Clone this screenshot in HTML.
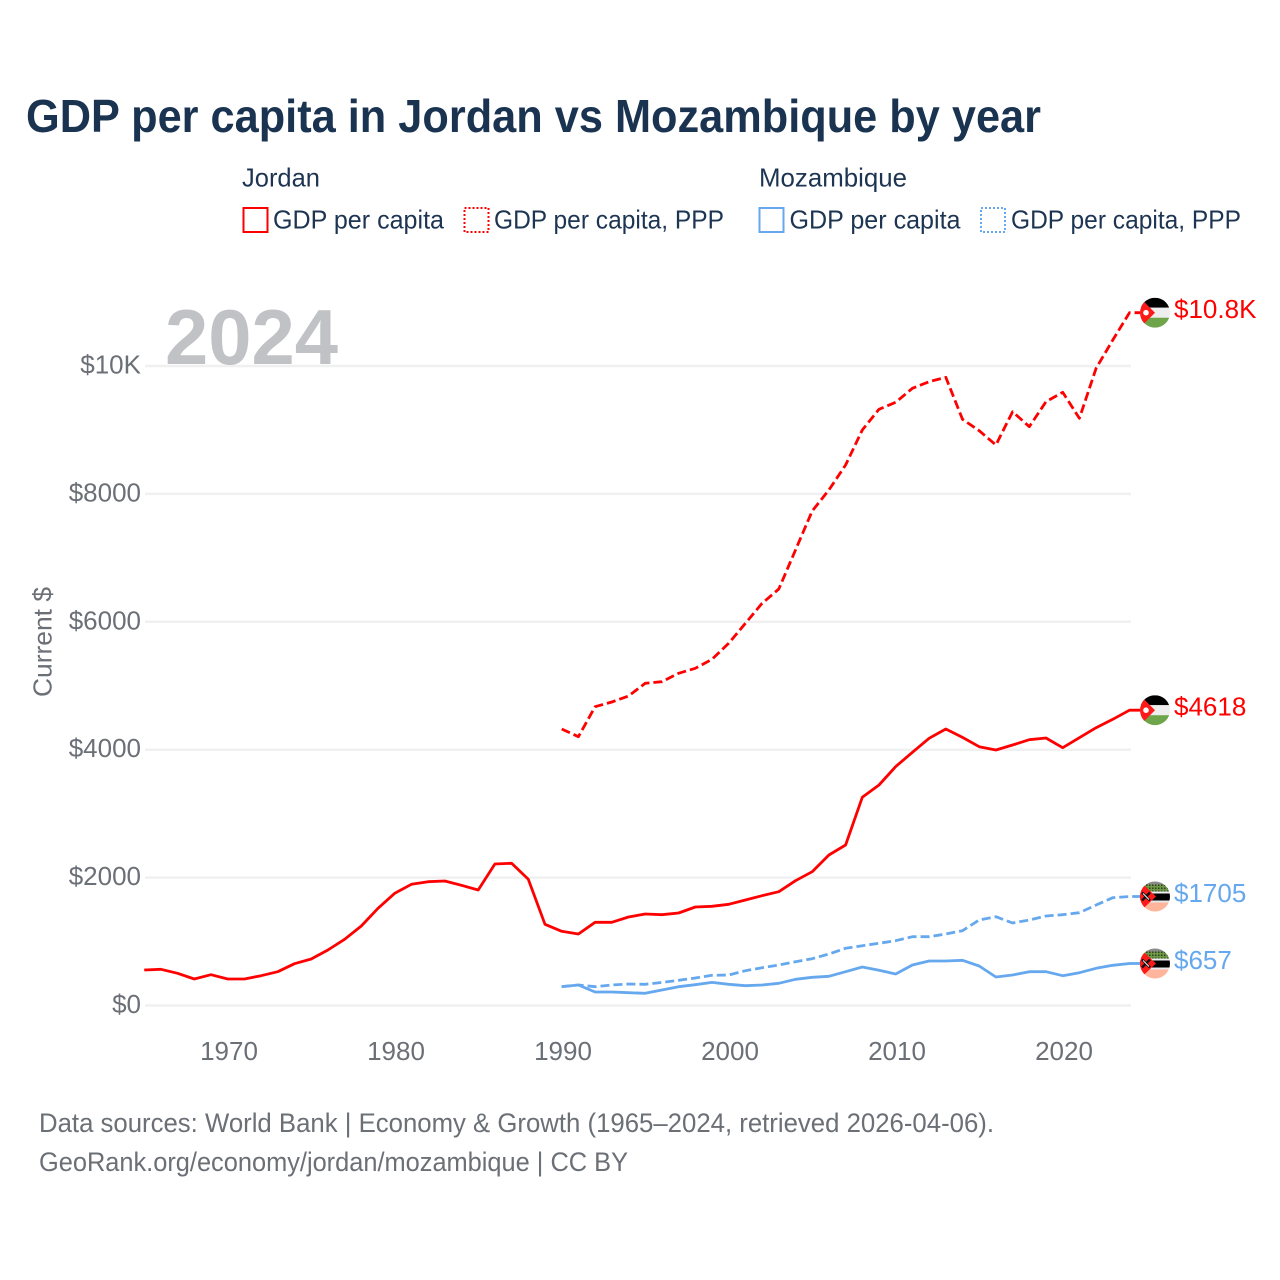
<!DOCTYPE html>
<html lang="en">
<head>
<meta charset="utf-8">
<title>GDP per capita in Jordan vs Mozambique by year</title>
<style>
html,body{margin:0;padding:0;background:#fff;}
svg{display:block;}
text{font-family:"Liberation Sans",sans-serif;}
</style>
</head>
<body>
<svg id="chart" xmlns="http://www.w3.org/2000/svg" width="1280" height="1280" viewBox="0 0 1280 1280">
  <defs>
    <clipPath id="flag-clip"><circle cx="0" cy="0" r="15"></circle></clipPath>
    <pattern id="moz-hatch" width="3" height="3" patternUnits="userSpaceOnUse">
      <rect width="3" height="3" fill="#6f9a45"></rect>
      <rect width="1.5" height="1.5" fill="#2f3d22"></rect>
    </pattern>
  </defs>
  <rect x="0" y="0" width="1280" height="1280" fill="#fff"></rect>
  <text x="26" y="132" font-size="46" font-weight="700" fill="#1a3350" textLength="1015" lengthAdjust="spacingAndGlyphs">GDP per capita in Jordan vs Mozambique by year</text>

  <g font-size="26" fill="#1d3552">
    <text x="242" y="186.5" textLength="78" lengthAdjust="spacingAndGlyphs">Jordan</text>
    <rect x="243.5" y="208" width="24" height="24" fill="none" stroke="#ff0000" stroke-width="2"></rect>
    <text x="273" y="228.5" textLength="171" lengthAdjust="spacingAndGlyphs">GDP per capita</text>
    <rect x="464.5" y="208" width="24" height="24" fill="none" stroke="#ff0000" stroke-width="2" stroke-dasharray="2 2"></rect>
    <text x="494" y="228.5" textLength="230" lengthAdjust="spacingAndGlyphs">GDP per capita, PPP</text>
    <text x="759" y="186.5" textLength="148" lengthAdjust="spacingAndGlyphs">Mozambique</text>
    <rect x="759.5" y="208" width="24" height="24" fill="none" stroke="#66a8ee" stroke-width="2"></rect>
    <text x="789.5" y="228.5" textLength="171" lengthAdjust="spacingAndGlyphs">GDP per capita</text>
    <rect x="981" y="208" width="24" height="24" fill="none" stroke="#66a8ee" stroke-width="2" stroke-dasharray="2 2"></rect>
    <text x="1011" y="228.5" textLength="230" lengthAdjust="spacingAndGlyphs">GDP per capita, PPP</text>
  </g>

  <g id="grid"></g>
  <g id="y-axis"></g>
  <g id="x-axis"></g>
  <text transform="translate(51.5,697) rotate(-90)" font-size="26" fill="#6b6f76" textLength="110" lengthAdjust="spacingAndGlyphs">Current $</text>
  <text x="165" y="364" font-size="78" font-weight="700" fill="#c0c2c5" textLength="173" lengthAdjust="spacingAndGlyphs">2024</text>
  <g id="series"></g>
  <g id="ends"></g>

  <text x="39" y="1132" font-size="26.5" fill="#6b6f76" textLength="955" lengthAdjust="spacingAndGlyphs">Data sources: World Bank | Economy &amp; Growth (1965–2024, retrieved 2026-04-06).</text>
  <text x="39" y="1171" font-size="26.5" fill="#6b6f76" textLength="589" lengthAdjust="spacingAndGlyphs">GeoRank.org/economy/jordan/mozambique | CC BY</text>
</svg>
<script>
const years = [1965,1966,1967,1968,1969,1970,1971,1972,1973,1974,1975,1976,1977,1978,1979,1980,1981,1982,1983,1984,1985,1986,1987,1988,1989,1990,1991,1992,1993,1994,1995,1996,1997,1998,1999,2000,2001,2002,2003,2004,2005,2006,2007,2008,2009,2010,2011,2012,2013,2014,2015,2016,2017,2018,2019,2020,2021,2022,2023,2024];
const jordanGdp = [555,566,503,414,482,414,414,466,529,654,727,868,1035,1243,1520,1754,1895,1936,1947,1880,1806,2213,2224,1973,1270,1160,1118,1301,1301,1384,1431,1420,1446,1540,1551,1582,1650,1717,1780,1952,2092,2353,2510,3256,3448,3735,3959,4178,4324,4193,4047,3995,4073,4157,4183,4031,4188,4344,4475,4618];
const jordanPpp = [null,null,null,null,null,null,null,null,null,null,null,null,null,null,null,null,null,null,null,null,null,null,null,null,null,4324,4204,4673,4746,4840,5038,5063,5195,5273,5414,5664,5977,6289,6513,7123,7733,8061,8452,8999,9323,9432,9651,9755,9823,9167,8988,8765,9285,9051,9442,9589,9182,9964,10407,10833];
const mozGdp = [null,null,null,null,null,null,null,null,null,null,null,null,null,null,null,null,null,null,null,null,null,null,null,null,null,296,320,211,211,200,191,242,294,325,362,331,310,320,347,410,441,456,529,602,550,493,633,696,696,707,618,446,477,529,529,466,513,581,628,657];
const mozPpp = [null,null,null,null,null,null,null,null,null,null,null,null,null,null,null,null,null,null,null,null,null,null,null,null,null,294,320,294,320,336,331,362,394,430,472,477,544,591,633,685,732,805,894,935,972,1013,1076,1076,1118,1170,1337,1389,1290,1337,1400,1420,1451,1571,1686,1705];
const yTicks = [0,2000,4000,6000,8000,10000];
const yTickLabels = ['$0','$2000','$4000','$6000','$8000','$10K'];
const xTicks = [1970,1980,1990,2000,2010,2020];
const endLabels = ['$10.8K','$4618','$1705','$657'];

const NS = 'http://www.w3.org/2000/svg';
const RED = '#ff0000';
const BLUE = '#66a8ee';
const gridLeft = 145;
const plotLeft = 144.2;
const pxPerYear = 16.7;
const yZero = 1005.5;
const pxPerDollar = 0.06395;
const plotRight = 1131;
const connectorEnd = 1140;

function xScale(year) { return plotLeft + (year - years[0]) * pxPerYear; }
function yScale(value) { return yZero - value * pxPerDollar; }

const gridGroup = document.getElementById('grid');
const yAxisGroup = document.getElementById('y-axis');
const xAxisGroup = document.getElementById('x-axis');
const seriesGroup = document.getElementById('series');
const endsGroup = document.getElementById('ends');

yTicks.forEach(function (tick, i) {
  const line = document.createElementNS(NS, 'line');
  
  
  line.setAttribute('x1', gridLeft);
  line.setAttribute('x2', plotRight);
  line.setAttribute('y1', yScale(tick));
  line.setAttribute('y2', yScale(tick));
  line.setAttribute('stroke', '#f0f0f0');
  line.setAttribute('stroke-width', '2.5');
  gridGroup.appendChild(line);

  const label = document.createElementNS(NS, 'text');
  
  
  label.setAttribute('x', 141);
  label.setAttribute('y', yScale(tick) + 7.5);
  label.setAttribute('text-anchor', 'end');
  label.setAttribute('font-size', '26');
  label.setAttribute('fill', '#6b6f76');
  label.textContent = yTickLabels[i];
  yAxisGroup.appendChild(label);
});

xTicks.forEach(function (tick) {
  const label = document.createElementNS(NS, 'text');
  
  
  label.setAttribute('x', xScale(tick) + 1.3);
  label.setAttribute('y', 1060);
  label.setAttribute('text-anchor', 'middle');
  label.setAttribute('font-size', '26');
  label.setAttribute('fill', '#6b6f76');
  label.textContent = String(tick);
  xAxisGroup.appendChild(label);
});

function drawLine(values, color, dashed, name) {
  const parts = [];
  let last = null;
  values.forEach(function (value, i) {
    if (value === null) { return; }
    parts.push((parts.length ? 'L' : 'M') + xScale(years[i]).toFixed(1) + ' ' + yScale(value).toFixed(1));
    last = value;
  });
  parts.push('L' + connectorEnd + ' ' + yScale(last).toFixed(1));
  const path = document.createElementNS(NS, 'path');
  
  
  path.setAttribute('d', parts.join(''));
  path.setAttribute('fill', 'none');
  path.setAttribute('stroke', color);
  path.setAttribute('stroke-width', '2.8');
  path.setAttribute('stroke-linejoin', 'round');
  if (dashed) { path.setAttribute('stroke-dasharray', '9 4'); }
  seriesGroup.appendChild(path);
}

drawLine(mozPpp, BLUE, true, 'line-mozambique-ppp');
drawLine(mozGdp, BLUE, false, 'line-mozambique-gdp');
drawLine(jordanPpp, RED, true, 'line-jordan-ppp');
drawLine(jordanGdp, RED, false, 'line-jordan-gdp');

function shape(parent, tag, attrs) {
  const el = document.createElementNS(NS, tag);
  Object.keys(attrs).forEach(function (key) { el.setAttribute(key, attrs[key]); });
  parent.appendChild(el);
  return el;
}

function drawJordanFlag(g) {
  shape(g, 'rect', { x: -15, y: -15, width: 30, height: 10, fill: '#000000' });
  shape(g, 'rect', { x: -15, y: -5, width: 30, height: 10, fill: '#eeeeee' });
  shape(g, 'rect', { x: -15, y: 5, width: 30, height: 10, fill: '#6fa54a' });
  shape(g, 'polygon', { points: '-15,-15 0,0 -15,15', fill: '#ff1a1a' });
  shape(g, 'circle', { cx: -9, cy: 0, r: 2.8, fill: '#ffffff' });
}

function drawMozambiqueFlag(g) {
  shape(g, 'rect', { x: -15, y: -15, width: 30, height: 3, fill: '#8a8a8a' });
  shape(g, 'rect', { x: -15, y: -12, width: 30, height: 7, fill: 'url(#moz-hatch)' });
  shape(g, 'rect', { x: -15, y: -5, width: 30, height: 2, fill: '#eeeeee' });
  shape(g, 'rect', { x: -15, y: -3, width: 30, height: 7, fill: '#000000' });
  shape(g, 'rect', { x: -15, y: 4, width: 30, height: 2, fill: '#e8e8e8' });
  shape(g, 'rect', { x: -15, y: 6, width: 30, height: 10, fill: '#ffb59b' });
  shape(g, 'polygon', { points: '-15,-15 1,0 -15,15', fill: '#ff1a1a' });
  shape(g, 'path', { d: 'M-13 -4L-5 4M-5 -4L-13 4', stroke: '#111111', 'stroke-width': 2.4, fill: 'none' });
  shape(g, 'path', { d: 'M-12 -3L-6 3', stroke: '#ffffff', 'stroke-width': 0.9, fill: 'none' });
}

function drawEnd(values, label, color, drawFlag, name) {
  const y = yScale(values[values.length - 1]);
  const flag = document.createElementNS(NS, 'g');
  
  
  flag.setAttribute('transform', 'translate(1155,' + y.toFixed(1) + ')');
  const clip = document.createElementNS(NS, 'g');
  clip.setAttribute('clip-path', 'url(#flag-clip)');
  
  
  drawFlag(clip);
  flag.appendChild(clip);
  endsGroup.appendChild(flag);

  const text = document.createElementNS(NS, 'text');
  
  
  text.setAttribute('x', 1174);
  text.setAttribute('y', (y + 5.5).toFixed(1));
  text.setAttribute('font-size', '26');
  text.setAttribute('fill', color);
  text.textContent = label;
  endsGroup.appendChild(text);
}

drawEnd(jordanPpp, endLabels[0], RED, drawJordanFlag, 'end-jordan-ppp');
drawEnd(jordanGdp, endLabels[1], RED, drawJordanFlag, 'end-jordan-gdp');
drawEnd(mozPpp, endLabels[2], BLUE, drawMozambiqueFlag, 'end-mozambique-ppp');
drawEnd(mozGdp, endLabels[3], BLUE, drawMozambiqueFlag, 'end-mozambique-gdp');
</script>
</body>
</html>
